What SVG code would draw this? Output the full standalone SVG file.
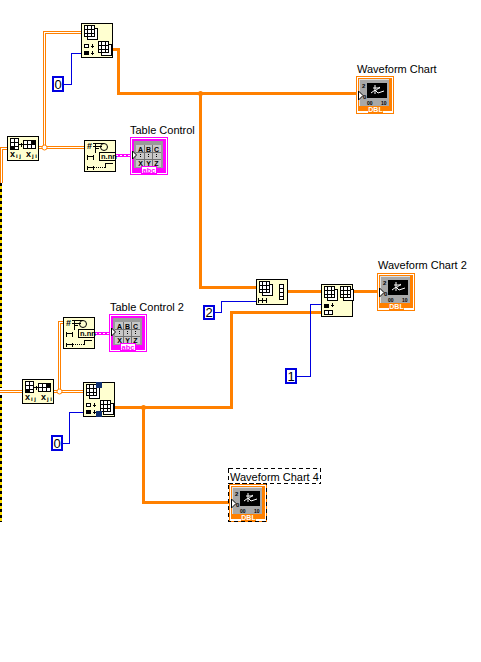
<svg xmlns="http://www.w3.org/2000/svg" width="481" height="662" viewBox="0 0 481 662">
<defs>
<g id="arr2" shape-rendering="crispEdges"><rect x="3.500" y="3.500" width="10" height="11" fill="#fff" stroke="#000"/><rect x="0.500" y="0.500" width="10" height="11" fill="#fff" stroke="#000"/><path d="M0.500 4.500H10.500M0.500 8.500H10.500M3.500 0.500V11.500M7.500 0.500V11.500" stroke="#000" fill="none"/></g>
<g id="fmt">
<rect x="0.500" y="0.500" width="31" height="31" fill="#ffffd0" stroke="#000" shape-rendering="crispEdges"/>
<text x="3" y="9" class="t" font-size="9" font-weight="bold">#</text>
<path d="M9 3.500H20M9 6.500H18M11.500 3.500V13M11.500 8.500H15" stroke="#000" fill="none" shape-rendering="crispEdges"/>
<circle cx="20" cy="7" r="3.500" fill="none" stroke="#000"/>
<rect x="15.500" y="12.500" width="16" height="8" fill="#ffffd0" stroke="#000" shape-rendering="crispEdges"/>
<text x="17" y="19" class="t" font-size="7.500" font-weight="bold">n.nn</text>
<path d="M3.500 14.500V19.500M9.500 14.500V19.500M3.500 16.500H9.500M3.500 25.500V29.500M9.500 25.500V29.500M3.500 27.500H9.500M21.500 27.500V23.500M20.500 23.500H28.500" stroke="#000" fill="none" shape-rendering="crispEdges"/>
<path d="M10 27.500H21" stroke="#000" stroke-dasharray="1 1" fill="none" shape-rendering="crispEdges"/>
</g>
<g id="tbl">
<rect x="0.500" y="0.500" width="37" height="37" fill="#fff" stroke="#ff00ff" shape-rendering="crispEdges"/>
<rect x="2" y="2" width="34" height="34" fill="#ff00ff"/>
<rect x="4" y="4" width="29" height="27" fill="#9a9a9a"/>
<rect x="6" y="8" width="25" height="22" fill="#c8c8c8"/>
<path d="M14.500 8V30M22.500 8V30M6 15.500H31M6 22.500H31" stroke="#707070" fill="none" shape-rendering="crispEdges"/>
<g class="t" font-size="7" font-weight="bold" text-anchor="middle"><text x="10.500" y="14.500">A</text><text x="18.500" y="14.500">B</text><text x="26.500" y="14.500">C</text><text x="10.500" y="29">X</text><text x="18.500" y="29">Y</text><text x="26.500" y="29">Z</text></g>
<path d="M10.500 17V21M18.500 17V21M26.500 17V21" stroke="#000" stroke-dasharray="1 1" fill="none" shape-rendering="crispEdges"/>
<rect x="11.500" y="29.500" width="15" height="7" fill="#fff" stroke="#ff00ff" shape-rendering="crispEdges"/>
<text x="19" y="35.500" class="t" font-size="7.500" font-weight="bold" fill="#ff00ff" text-anchor="middle">abc</text>
<path d="M2.500 14V22L6.500 18Z" fill="#fff" stroke="#000"/>
</g>
<g id="chart">
<rect x="0.500" y="0.500" width="37" height="37" fill="#fff" stroke="#ff8000" shape-rendering="crispEdges"/>
<rect x="2" y="2" width="34" height="33" fill="#ff8000"/>
<rect x="3" y="3" width="30" height="27" fill="#a8a8a8"/>
<path d="M3.500 30V3.500H33" stroke="#e0e0e0" fill="none" shape-rendering="crispEdges"/>
<rect x="11" y="7" width="20" height="15" fill="#000"/>
<path d="M15 17L19 14L22 17L28 15M19 9V18M17 12H24M19 15L24 11" stroke="#fff" fill="none"/>
<text x="6" y="12" class="t" font-size="6" font-weight="bold">2</text>
<text x="7" y="23" class="t" font-size="6" font-weight="bold">0</text>
<text x="11" y="29" class="t" font-size="5" font-weight="bold">00</text>
<text x="25" y="29" class="t" font-size="5" font-weight="bold">10</text>
<rect x="12" y="30" width="15" height="7" fill="#ff8000"/>
<text x="19.500" y="36" class="t" font-size="7" font-weight="bold" fill="#fff" text-anchor="middle">DBL</text>
<path d="M2.500 15V24L7 19.500Z" fill="#fff" stroke="#000"/>
</g>
<g id="tr">
<rect x="0.500" y="0.500" width="31" height="24" fill="#ffffd0" stroke="#000" shape-rendering="crispEdges"/>
<g shape-rendering="crispEdges">
<rect x="3.500" y="2.500" width="8" height="11" fill="#fff" stroke="#000"/><path d="M3.500 6.500H11.500M3.500 10.500H11.500M7.500 2.500V13.500" stroke="#000" fill="none"/><rect x="4" y="10" width="4" height="4" fill="#000"/>
<rect x="16.500" y="4.500" width="12" height="8" fill="#fff" stroke="#000"/><path d="M16.500 8.500H28.500M20.500 4.500V12.500M24.500 4.500V12.500" stroke="#000" fill="none"/><rect x="24" y="4" width="5" height="4" fill="#000"/>
<path d="M12 8.500H16M14.500 6.500V10.500" stroke="#000" fill="none"/>
</g>
<text x="3" y="21" class="t" font-size="9" font-weight="bold">x</text><text x="9" y="22" class="t" font-size="6" font-weight="bold">i j</text>
<text x="19" y="21" class="t" font-size="9" font-weight="bold">x</text><text x="25" y="22" class="t" font-size="6" font-weight="bold">j i</text>
</g>
<g id="sa">
<rect x="0.500" y="0.500" width="31" height="34" fill="#ffffd0" stroke="#000" shape-rendering="crispEdges"/>
<use href="#arr2" x="3" y="2"/>
<g shape-rendering="crispEdges">
<rect x="3.500" y="21.500" width="4" height="3" fill="#fff" stroke="#000"/>
<rect x="3" y="28" width="5" height="4" fill="#000"/>
<path d="M10 23.500H13M11.500 21V25M10 30.500H13M11.500 28V32" stroke="#000" fill="none"/>
</g>
<use href="#arr2" x="17" y="18"/>
</g>
</defs>
<style>
.t{font-family:"Liberation Sans",Arial,sans-serif}
.lbl{font-family:"Liberation Sans",Arial,sans-serif;font-size:11px;fill:#000}
.o{fill:none;stroke:#ff8000;stroke-width:3}
.b{fill:none;stroke:#0000e0;stroke-width:1}
.oo{fill:none;stroke:#ff8000;stroke-width:3}
.oi{fill:none;stroke:#fff;stroke-width:1}
.cb{fill:#fff;stroke:#0000e0;stroke-width:2}
.ct{font-family:"Liberation Sans",Arial,sans-serif;font-size:13px;fill:#000}
.pk{fill:none;stroke:#ff00ff;stroke-width:3}
.pi{fill:none;stroke:#fff;stroke-width:1;stroke-dasharray:2 2}
</style>
<rect width="481" height="662" fill="#fff"/>
<g id="frame" shape-rendering="crispEdges">
<path d="M1 183V388M1 395V522" stroke="#ffe000" stroke-width="2"/>
<path d="M1 183V388M1 395V522" stroke="#000" stroke-width="2" stroke-dasharray="3 3"/>
</g>
<g id="connectors" shape-rendering="crispEdges">
<path class="oo" d="M1.500 183V148.500H8"/><path class="oi" d="M1.500 183V148.500H8"/>
<path class="o" d="M113 49.500H118.500V93.500H357"/>
<path class="o" d="M200.500 93.500V287.500H256"/>
<path class="o" d="M288 291.500H321"/>
<path class="o" d="M353 291.500H378"/>
<path class="o" d="M321 312.500H231.500V407.500H115"/>
<path class="o" d="M143.500 407.500V502.500H230"/>
<path class="oo" d="M39 147.500H84M44.500 147.500V32.500H81"/><path class="oi" d="M39 147.500H84M44.500 147.500V32.500H81"/>
<path class="oo" d="M0 391.500H23M54 391.500H84M59.500 391.500V322.500H64"/><path class="oi" d="M0 391.500H23M54 391.500H84M59.500 391.500V322.500H64"/>
<path class="b" d="M81 53.500H71.500V84.500H63"/>
<path class="b" d="M256 301.500H221.500V312.500H214"/>
<path class="b" d="M321 304.500H310.500V376.500H297"/>
<path class="b" d="M83 412.500H69.500V443.500H62"/>
<path class="pk" d="M116 155.500H132"/><path class="pi" d="M116 155.500H132"/>
<path class="pk" d="M95 333.500H111"/><path class="pi" d="M95 333.500H111"/>
</g>
<g id="junctions">
<circle cx="44.500" cy="147.500" r="2.500" fill="#fff" stroke="#ff8000"/>
<circle cx="59.500" cy="391.500" r="2.500" fill="#fff" stroke="#ff8000"/>
<circle cx="200.500" cy="93.500" r="2.500" fill="#ff8000"/>
<circle cx="143.500" cy="407.500" r="2.500" fill="#ff8000"/>
</g>
<g id="n-subarray1"><use href="#sa" x="81" y="23"/></g>
<g id="n-const0a"><rect x="53" y="77" width="10" height="14" class="cb" shape-rendering="crispEdges"/><text x="58" y="89" class="ct" text-anchor="middle">0</text></g>
<g id="n-transpose1"><use href="#tr" x="7" y="136"/></g>
<g id="n-format1"><use href="#fmt" x="84" y="140"/></g>
<g id="n-table1"><text x="130" y="134" class="lbl">Table Control</text><use href="#tbl" x="130" y="137"/></g>
<g id="n-chart1"><text x="357" y="73" class="lbl">Waveform Chart</text><use href="#chart" x="356" y="76"/></g>
<g id="n-reshape1"><rect x="256.500" y="279.500" width="31" height="25" fill="#ffffd0" stroke="#000" shape-rendering="crispEdges"/><use href="#arr2" x="259" y="281"/><path d="M279.500 284.500H283.500V299.500H279.500ZM279.500 288.500H283.500M279.500 292.500H283.500M279.500 296.500H283.500M258.500 300.500H266.500M258.500 298V303M262.500 298V303M266.500 298V303" stroke="#000" fill="#fff" shape-rendering="crispEdges"/></g>
<g id="n-const2"><rect x="204" y="306" width="10" height="13" class="cb" shape-rendering="crispEdges"/><text x="209" y="317" class="ct" text-anchor="middle">2</text></g>
<g id="n-build"><rect x="321.500" y="284.500" width="31" height="32" fill="#ffffd0" stroke="#000" shape-rendering="crispEdges"/><use href="#arr2" x="324" y="286"/><use href="#arr2" x="340" y="286"/><g shape-rendering="crispEdges"><rect x="324" y="304" width="5" height="4" fill="#000"/><path d="M331 305.500H334M332.500 303V307" stroke="#000" fill="none"/><rect x="324.500" y="310.500" width="8" height="4" fill="#fff" stroke="#000"/><path d="M328.500 310.500V314.500" stroke="#000"/></g></g>
<g id="n-const1"><rect x="286" y="369" width="10" height="14" class="cb" shape-rendering="crispEdges"/><text x="291" y="381" class="ct" text-anchor="middle">1</text></g>
<g id="n-chart2"><text x="378" y="269" class="lbl">Waveform Chart 2</text><use href="#chart" x="377" y="273"/></g>
<g id="n-format2"><use href="#fmt" x="63" y="317"/></g>
<g id="n-table2"><text x="110" y="311" class="lbl">Table Control 2</text><use href="#tbl" x="109" y="314"/></g>
<g id="n-transpose2"><use href="#tr" x="22" y="379"/></g>
<g id="n-subarray2"><use href="#sa" x="83" y="382"/><rect x="96" y="382" width="6" height="6" fill="#103070"/><rect x="96" y="411" width="6" height="6" fill="#103070"/></g>
<g id="n-const0b"><rect x="52" y="436" width="10" height="14" class="cb" shape-rendering="crispEdges"/><text x="57" y="448" class="ct" text-anchor="middle">0</text></g>
<g id="n-chart4"><text x="230" y="481" class="lbl">Waveform Chart 4</text><use href="#chart" x="229" y="484"/><g fill="none" stroke="#000" stroke-dasharray="4 3" shape-rendering="crispEdges"><rect x="228.500" y="468.500" width="92" height="15"/><rect x="228.500" y="483.500" width="38" height="38"/></g></g>
</svg>
